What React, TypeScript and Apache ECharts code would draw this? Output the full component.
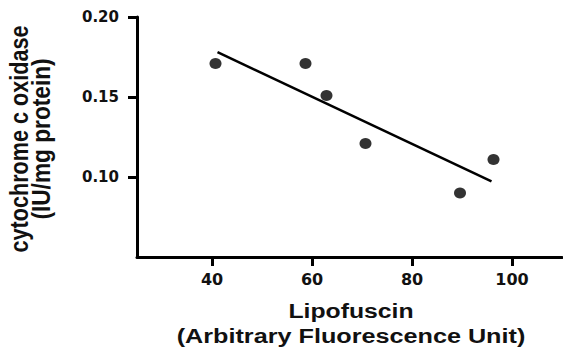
import React, { useEffect, useRef } from "react";
import * as echarts from "echarts";

// Lipofuscin (arbitrary fluorescence units) vs. cytochrome c oxidase activity
const lipofuscin = [40.7, 58.7, 62.9, 70.7, 89.6, 96.3];
const cytochromeOxidase = [0.171, 0.171, 0.151, 0.121, 0.09, 0.111];

// Endpoints of the fitted regression line
const fitX = [41.1, 95.9];
const fitY = [0.178, 0.0973];

const xTicks = [40, 60, 80, 100];
const yTicks = [0.1, 0.15, 0.2];

const xTitleLines = ["Lipofuscin", "(Arbitrary Fluorescence Unit)"];
const yTitleLines = ["cytochrome c oxidase", "(IU/mg protein)"];

const TICK_FONT = "'DejaVu Sans', sans-serif";
const TITLE_FONT = "'Liberation Sans', Arial, sans-serif";

export default function App() {
  const ref = useRef<HTMLDivElement>(null);

  useEffect(() => {
    if (!ref.current) return;
    const chart = echarts.init(ref.current, undefined, { renderer: "svg" });

    const points = lipofuscin.map((x, i) => [x, cytochromeOxidase[i]]);
    const fit = fitX.map((x, i) => [x, fitY[i]]);

    const axisLine = { show: true, lineStyle: { color: "#000", width: 3 } };
    const axisTick = { show: true, inside: false, length: 9, lineStyle: { color: "#000", width: 3 } };

    // Title text drawn slightly widened across its thickness or length
    const title = (text: string, x: number, y: number, size: number, extra: object) => ({
      type: "text",
      x,
      y,
      ...extra,
      style: {
        text,
        x: 0,
        y: 0,
        fill: "#111",
        font: `bold ${size}px ${TITLE_FONT}`,
        align: "center",
        verticalAlign: "middle",
      },
    });

    chart.setOption({
      animation: false,
      backgroundColor: "#fff",
      grid: { left: 137, top: 17, width: 425, bottom: 92, containLabel: false },
      xAxis: {
        type: "value",
        min: 25,
        max: 110,
        axisLine,
        axisTick: { ...axisTick, customValues: xTicks },
        splitLine: { show: false },
        axisLabel: {
          customValues: xTicks,
          margin: 14,
          color: "#111",
          fontFamily: TICK_FONT,
          fontWeight: "bold",
          fontSize: 16,
        },
      },
      yAxis: {
        type: "value",
        min: 0.05,
        max: 0.2,
        axisLine,
        axisTick: { ...axisTick, customValues: yTicks },
        splitLine: { show: false },
        axisLabel: {
          customValues: yTicks,
          margin: 18,
          color: "#111",
          fontFamily: TICK_FONT,
          fontWeight: "bold",
          fontSize: 15,
          formatter: (v: number) => v.toFixed(2),
        },
      },
      graphic: [
        title(xTitleLines[0], 351, 311, 21, { scaleX: 1.18 }),
        title(xTitleLines[1], 351, 336, 21, { scaleX: 1.2 }),
        title(yTitleLines[0], 19, 139, 21, { rotation: Math.PI / 2, scaleX: 1.03, scaleY: 1.2 }),
        title(yTitleLines[1], 41, 139, 21, { rotation: Math.PI / 2, scaleX: 1.08, scaleY: 1.2 }),
      ],
      series: [
        {
          type: "line",
          data: fit,
          symbol: "none",
          lineStyle: { color: "#000", width: 2.5 },
          z: 2,
        },
        {
          type: "scatter",
          data: points,
          symbol: "circle",
          symbolSize: [12, 11],
          itemStyle: { color: "#000" },
          z: 3,
        },
      ],
    });

    return () => chart.dispose();
  }, []);

  return (
    <div
      ref={ref}
      style={{ position: "fixed", left: 0, top: 0, width: 563, height: 349, background: "#fff" }}
    />
  );
}
